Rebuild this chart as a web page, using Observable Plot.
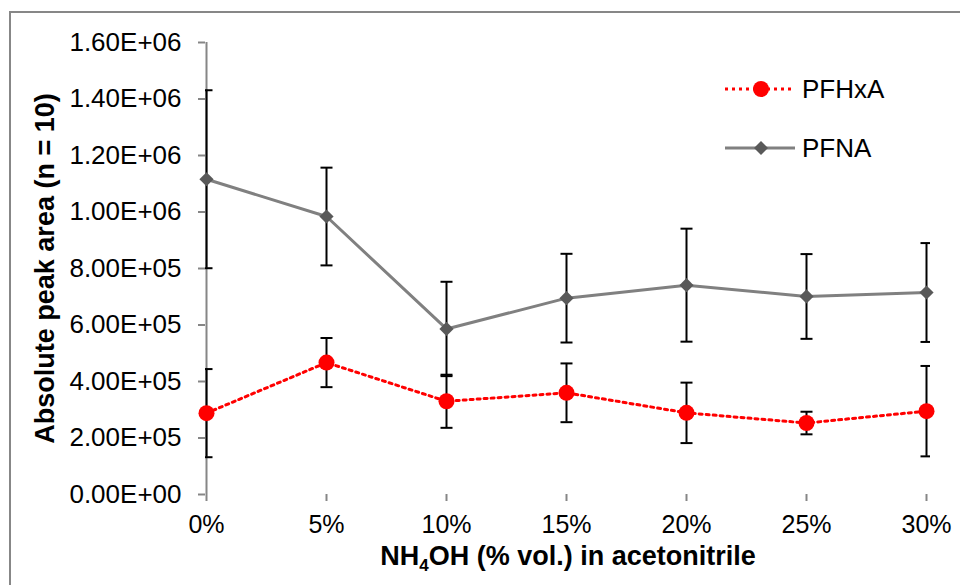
<!DOCTYPE html>
<html><head><meta charset="utf-8">
<script src="https://cdn.jsdelivr.net/npm/d3@7"></script>
<script src="https://cdn.jsdelivr.net/npm/@observablehq/plot@0.6"></script>
<style>
html,body{margin:0;padding:0;background:#fff;overflow:hidden;}
#wrap{position:relative;width:960px;height:585px;overflow:hidden;font-family:"Liberation Sans",Arial,sans-serif;}
#border{position:absolute;left:9px;top:11px;width:1000px;height:1000px;border:2px solid #878787;box-sizing:border-box;pointer-events:none;}
#chart{position:absolute;left:0;top:0;}
.leg{position:absolute;left:725px;height:24px;display:flex;align-items:center;}
.leg svg{display:block;}
.leg span{margin-left:7px;font-size:26px;line-height:24px;color:#000;}
</style>
</head><body>
<div id="wrap">
  <div id="chart"></div>
  <div id="border"></div>
  <div id="legend"></div>
</div>
<script>
// ---- data ----
const categories = ["0%", "5%", "10%", "15%", "20%", "25%", "30%"];
const seriesNames = ["PFHxA", "PFNA"];
const pfhxa    = [288000, 467000, 330000, 360000, 289000, 253000, 295000];
const pfhxaErr = [156000,  87000,  94000, 104000, 107000,  40000, 160000];
const pfna     = [1116000, 984000, 586000, 695000, 741000, 701000, 715000];
const pfnaErr  = [ 315000, 173000, 167000, 157000, 200000, 150000, 175000];
const yTicks = [0, 200000, 400000, 600000, 800000, 1000000, 1200000, 1400000, 1600000];
const yTitle = "Absolute peak area (n = 10)";
const xTitle = "NH4OH (% vol.) in acetonitrile";

// ---- table ----
const rows = categories.flatMap((c, i) => [
  {cat: c, series: seriesNames[0], v: pfhxa[i], e: pfhxaErr[i]},
  {cat: c, series: seriesNames[1], v: pfna[i], e: pfnaErr[i]}
]);
const hx = rows.filter(d => d.series === seriesNames[0]);
const na = rows.filter(d => d.series === seriesNames[1]);

const fmtE = d => {
  const [m, e] = d.toExponential(2).split("e");
  const sign = e[0] === "-" ? "-" : "+";
  const digits = e.replace(/[+-]/, "").padStart(2, "0");
  return m + "E" + sign + digits;
};

// horizontal cap symbol for error bars
const capSymbol = {draw(ctx, size) { const r = Math.sqrt(size / Math.PI); ctx.moveTo(-r, 0); ctx.lineTo(r, 0); }};

const RED = "#ff0000", GRAY = "#808080", DIAM = "#595959", AX = "#868686";

const chart = Plot.plot({
  width: 960, height: 585,
  marginLeft: 205, marginRight: 30, marginTop: 42, marginBottom: 91,
  style: {fontFamily: "'Liberation Sans', Arial, sans-serif", background: "transparent", color: "#000"},
  x: {type: "point", domain: categories, range: [205, 927], padding: 0},
  y: {domain: [yTicks[0], yTicks[yTicks.length - 1]], range: [494, 42]},
  marks: [
    Plot.ruleY([yTicks[0]], {x1: categories[0], x2: categories[categories.length - 1], stroke: AX, strokeWidth: 2}),
    Plot.ruleX([categories[0]], {y1: yTicks[0], y2: yTicks[yTicks.length - 1], stroke: AX, strokeWidth: 2}),
    Plot.axisY({ticks: yTicks, tickFormat: fmtE, tickSize: 7, tickPadding: 17, fontSize: 26, stroke: AX, strokeWidth: 2, fill: "#000", label: null}),
    Plot.axisX({tickSize: 7, tickPadding: 14, fontSize: 25, stroke: AX, strokeWidth: 2, fill: "#000", label: null}),
    // error bars
    Plot.ruleX(rows, {x: "cat", y1: d => d.v - d.e, y2: d => d.v + d.e, stroke: "#000", strokeWidth: 2}),
    Plot.dot(rows, {x: "cat", y: d => d.v + d.e, symbol: capSymbol, r: 6, fill: "none", stroke: "#000", strokeWidth: 2, clip: true}),
    Plot.dot(rows, {x: "cat", y: d => d.v - d.e, symbol: capSymbol, r: 6, fill: "none", stroke: "#000", strokeWidth: 2, clip: true}),
    // lines
    Plot.line(na, {x: "cat", y: "v", stroke: GRAY, strokeWidth: 3}),
    Plot.line(hx, {x: "cat", y: "v", stroke: RED, strokeWidth: 3, strokeDasharray: "3,4"}),
    // markers
    Plot.dot(na, {x: "cat", y: "v", symbol: "diamond2", r: 6.4, fill: DIAM, stroke: "none"}),
    Plot.dot(hx, {x: "cat", y: "v", symbol: "circle", r: 8, fill: RED, stroke: "none"}),
    // titles
    Plot.text([yTitle], {text: d => d, frameAnchor: "left", textAnchor: "middle", rotate: -90, dx: -160.5, fontSize: 27, fontWeight: "bold", fill: "#000", className: "ytitle"}),
    Plot.text([xTitle], {text: d => d, frameAnchor: "bottom", textAnchor: "middle", dy: 70.5, fontSize: 27, fontWeight: "bold", fill: "#000", className: "xtitle"})
  ]
});
document.getElementById("chart").appendChild(chart);

// subscript in x title
const xt = chart.querySelector(".xtitle text");
if (xt) {
  const full = xt.textContent;
  const idx = full.indexOf("4");
  xt.textContent = "";
  const ns = "http://www.w3.org/2000/svg";
  const a = document.createElementNS(ns, "tspan"); a.textContent = full.slice(0, idx);
  const b = document.createElementNS(ns, "tspan"); b.textContent = full[idx];
  b.setAttribute("font-size", "17"); b.setAttribute("dy", "6");
  const c = document.createElementNS(ns, "tspan"); c.textContent = full.slice(idx + 1);
  c.setAttribute("dy", "-6");
  xt.append(a, b, c);
}

// legend
const legend = document.getElementById("legend");
const legItems = [
  {name: seriesNames[0], top: 77, svg: `<svg width="70" height="24"><line x1="0" x2="67" y1="12" y2="12" stroke="${RED}" stroke-width="3" stroke-dasharray="3,4"/><circle cx="36" cy="12" r="8" fill="${RED}"/></svg>`},
  {name: seriesNames[1], top: 136, svg: `<svg width="70" height="24"><line x1="0" x2="70" y1="12" y2="12" stroke="${GRAY}" stroke-width="3"/><path d="M36,5L43,12L36,19L29,12Z" fill="${DIAM}"/></svg>`}
];
for (const it of legItems) {
  const div = document.createElement("div");
  div.className = "leg";
  div.style.top = it.top + "px";
  div.innerHTML = it.svg + `<span>${it.name}</span>`;
  legend.appendChild(div);
}
</script>
</body></html>
